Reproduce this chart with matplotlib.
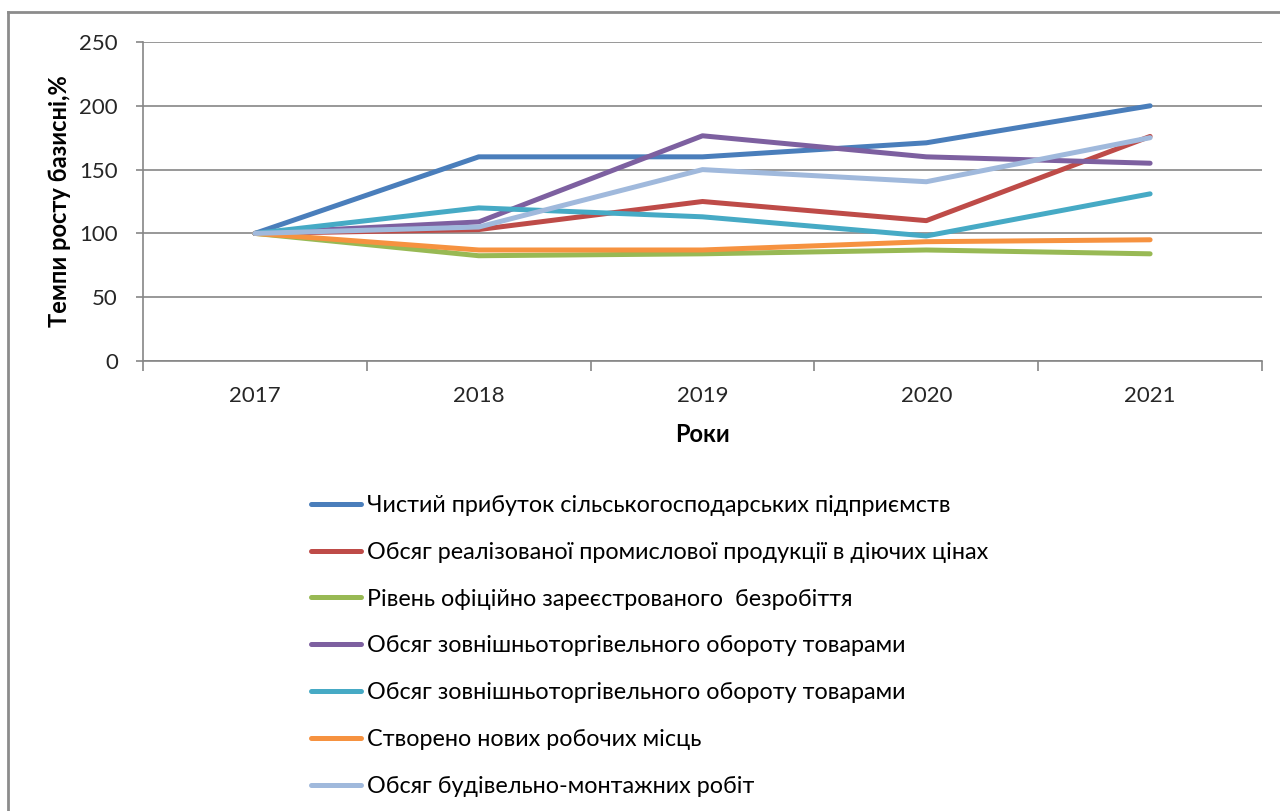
import matplotlib
matplotlib.use("Agg")
import matplotlib.pyplot as plt
from matplotlib.lines import Line2D

plt.rcParams['font.family'] = ['Lato', 'DejaVu Sans']

years = ['2017', '2018', '2019', '2020', '2021']

# темпи росту базисні, %
net_profit = [100, 160, 160, 171, 200]
industrial_sales = [100, 103, 125, 110, 176]
unemployment = [100, 82.5, 84, 87, 84]
foreign_trade_a = [100, 109, 176.5, 160, 155]
foreign_trade_b = [100, 120, 113, 98, 131]
new_jobs = [100, 87, 87, 93.5, 95]
construction = [100, 105, 150, 140.5, 175]

series_labels = [
    'Чистий прибуток сільськогосподарських підприємств',
    'Обсяг реалізованої промислової продукції в діючих цінах',
    'Рівень офіційно зареєстрованого  безробіття',
    'Обсяг зовнішньоторгівельного обороту товарами',
    'Обсяг зовнішньоторгівельного обороту товарами',
    'Створено нових робочих місць',
    'Обсяг будівельно-монтажних робіт',
]
series_colors = ['#4A7EBB', '#BE4B48', '#98B954', '#7D60A0',
                 '#46AAC5', '#F69240', '#A0B9DC']

all_series = [net_profit, industrial_sales, unemployment, foreign_trade_a,
              foreign_trade_b, new_jobs, construction]

fig = plt.figure(figsize=(12.8, 8.11), dpi=100)
ax = fig.add_axes([143 / 1280, 1 - 361 / 811, (1262 - 143) / 1280, (361 - 42) / 811])

x = list(range(len(years)))
for i, (vals, lab, col) in enumerate(zip(all_series, series_labels, series_colors)):
    ax.plot(x, vals, color=col, linewidth=3.6, label=lab, zorder=3 + i,
            solid_capstyle='round', solid_joinstyle='round')

grid_col = '#868686'
ax.set_xlim(-0.5, len(years) - 0.5)
ax.set_ylim(0, 250)
ax.set_yticks(range(0, 251, 50))
ax.yaxis.grid(True, color=grid_col, linewidth=1.2)
ax.set_axisbelow(True)

for s in ['top', 'right']:
    ax.spines[s].set_visible(False)
for s in ['left', 'bottom']:
    ax.spines[s].set_color(grid_col)
    ax.spines[s].set_linewidth(1.2)

ax.set_xticks([i - 0.5 for i in range(len(years) + 1)])
ax.set_xticklabels([])
ax.set_xticks(x, minor=True)
ax.set_xticklabels(years, minor=True)
ax.tick_params(axis='x', which='major', length=7, color=grid_col, width=1.2)
ax.tick_params(axis='x', which='minor', length=0, pad=18, labelsize=16, labelcolor='#262626')
ax.tick_params(axis='y', length=5, color=grid_col, width=1.2, pad=13,
               labelsize=16, labelcolor='#262626')

ax.set_ylabel('Темпи росту базисні,%', fontsize=17, fontweight='bold', labelpad=6)
ax.set_xlabel('Роки', fontsize=17, fontweight='bold', labelpad=12)

fig.legend(loc='upper left', bbox_to_anchor=(311 / 1280, 1 - 495 / 811),
           frameon=False, fontsize=16.8, handlelength=2.15, handletextpad=0.27,
           labelspacing=1.105, borderpad=0, borderaxespad=0)

# outer chart border (top and left visible)
fig.add_artist(Line2D([8 / 1280, 1], [1 - 12 / 811, 1 - 12 / 811],
                      transform=fig.transFigure, color='#8C8C8C', linewidth=2))
fig.add_artist(Line2D([8 / 1280, 8 / 1280], [0, 1 - 12 / 811],
                      transform=fig.transFigure, color='#8C8C8C', linewidth=2))

fig.savefig('out.png', dpi=100)
